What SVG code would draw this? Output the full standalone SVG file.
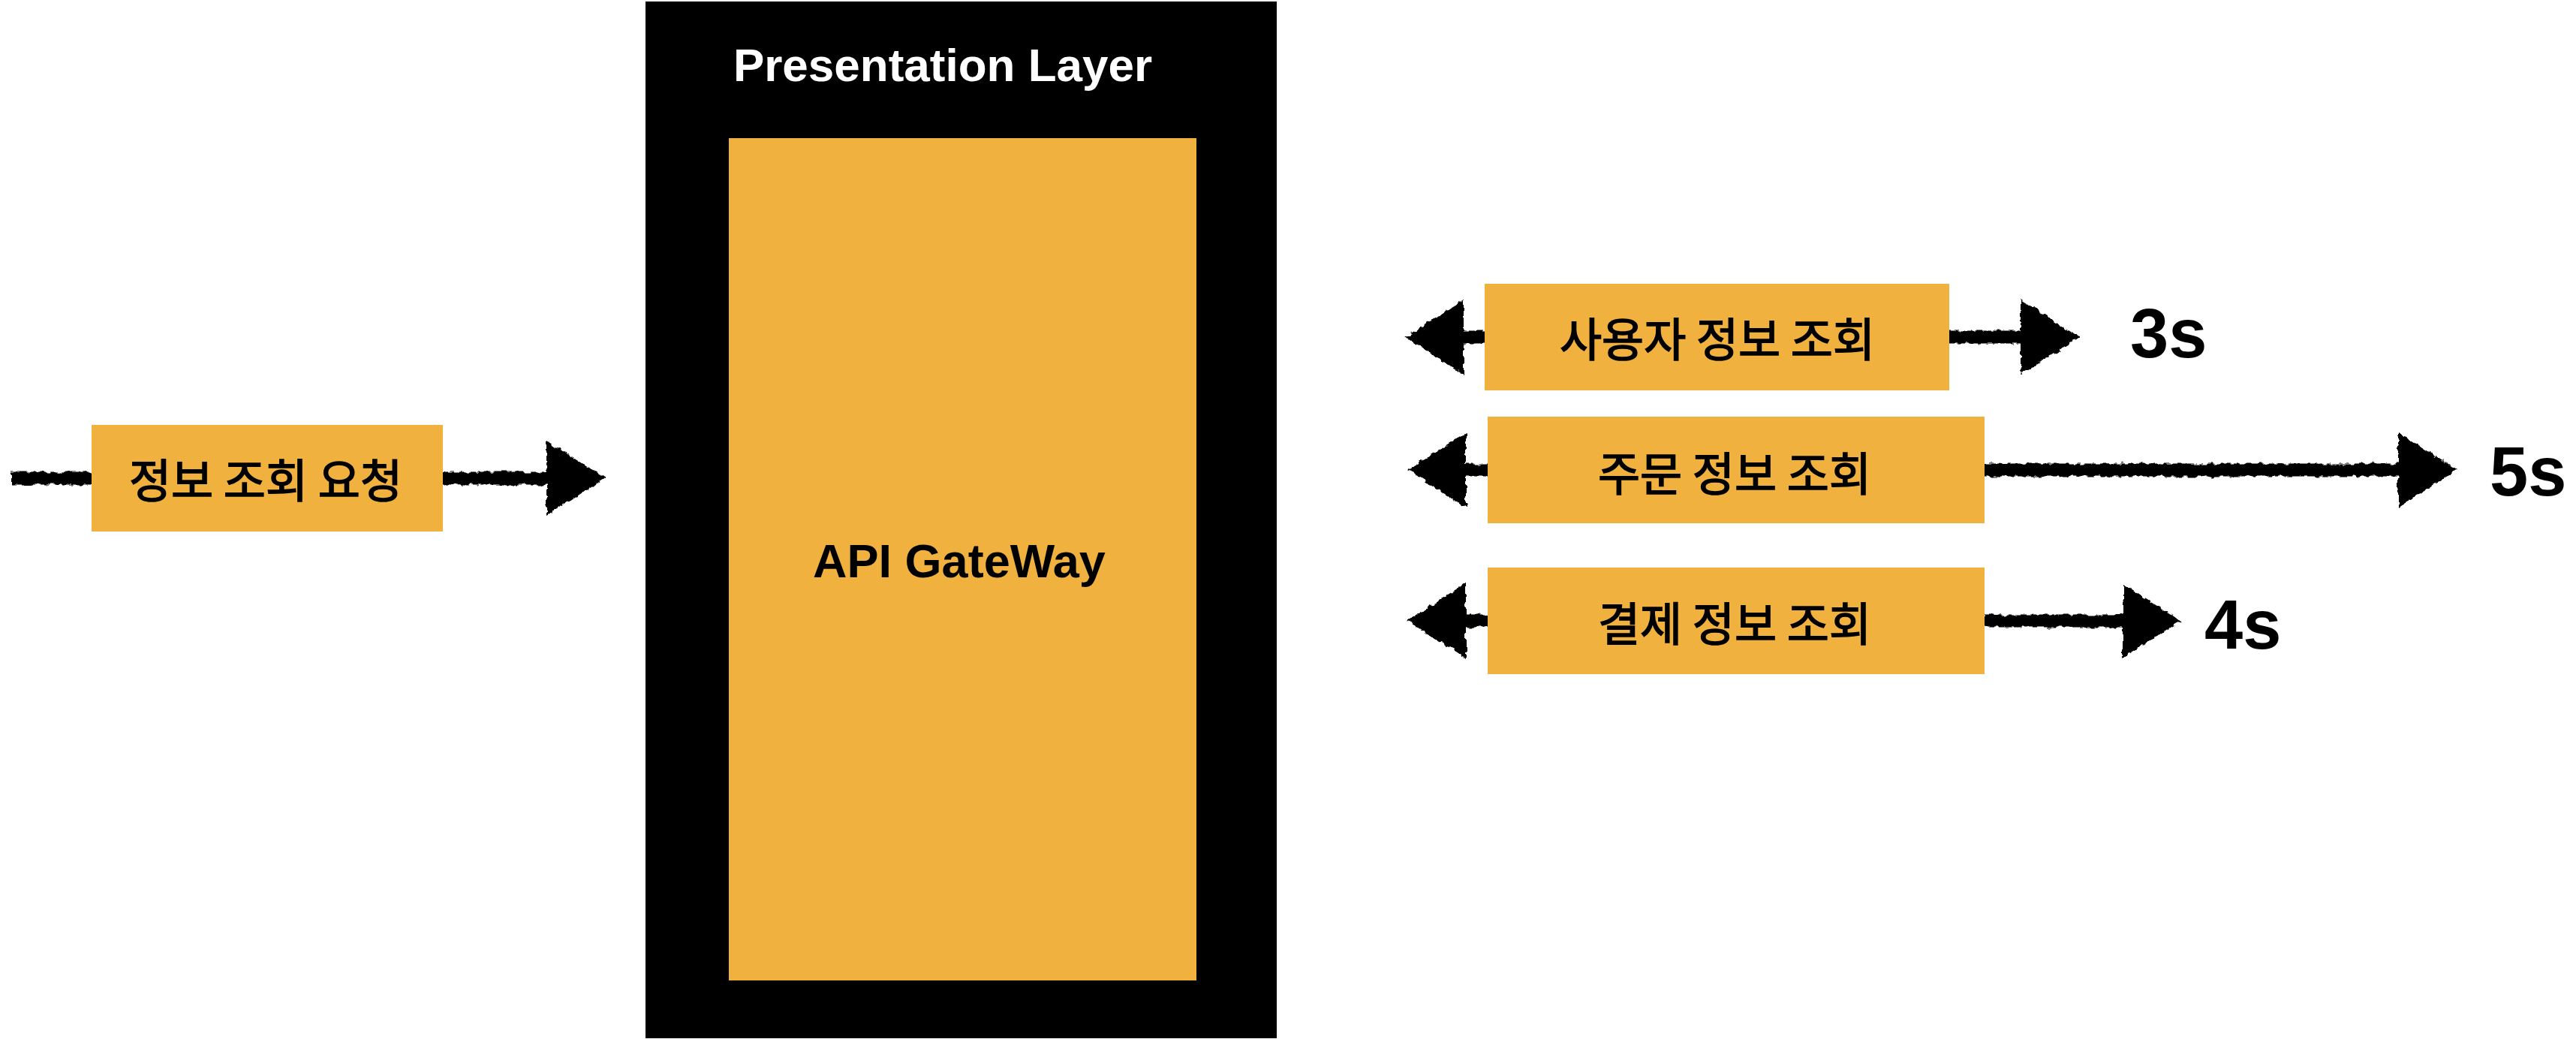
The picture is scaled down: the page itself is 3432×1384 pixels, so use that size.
<svg xmlns="http://www.w3.org/2000/svg" width="3432" height="1384" viewBox="0 0 3432 1384">
  <style>
    .box { fill: #F1B13F; }
    .ko { font-family: "Noto Sans CJK KR", "Liberation Sans", sans-serif; font-size: 61px; font-weight: normal; fill: #000; stroke: #000; stroke-width: 1.6; text-anchor: middle; dominant-baseline: central; }
    .en { font-family: "Liberation Sans", Arial, sans-serif; font-weight: bold; }
    .conn { fill: none; stroke: #000; stroke-width: 17; stroke-linecap: butt; }
    .time { font-family: "Liberation Sans", Arial, sans-serif; font-weight: bold; font-size: 92px; fill: #000; }
  </style>
  <defs>
    <filter id="rough" filterUnits="userSpaceOnUse" x="0" y="0" width="3432" height="1384">
      <feTurbulence type="fractalNoise" baseFrequency="0.12" numOctaves="2" seed="3" result="n"/>
      <feDisplacementMap in="SourceGraphic" in2="n" scale="8" xChannelSelector="R" yChannelSelector="G"/>
    </filter>
    <marker id="head" markerUnits="userSpaceOnUse" markerWidth="90" markerHeight="110" refX="2" refY="50" orient="auto" overflow="visible">
      <path d="M0,0 L78,50 L0,100 Z" fill="#000"/>
    </marker>
  </defs>

  <rect width="3432" height="1384" fill="#fff"/>

  <g id="presentation-layer">
    <rect x="860" y="2" width="841" height="1381" fill="#000"/>
    <text class="en" x="1256" y="108" font-size="62" fill="#fff" text-anchor="middle">Presentation Layer</text>
  </g>

  <g id="api-gateway">
    <rect class="box" x="971" y="184" width="623" height="1122"/>
    <text class="en" x="1278" y="769" font-size="63" fill="#000" text-anchor="middle">API GateWay</text>
  </g>

  <g id="connectors" filter="url(#rough)">
    <path class="conn" d="M15,637 L730,637" marker-end="url(#head)"/>
    <path class="conn" d="M1980,449 L1948,449" marker-end="url(#head)"/>
    <path class="conn" d="M2595,449 L2694,449" marker-end="url(#head)"/>
    <path class="conn" d="M1984,626 L1951,626" marker-end="url(#head)"/>
    <path class="conn" d="M2642,626 L3197,626" marker-end="url(#head)"/>
    <path class="conn" d="M1984,827 L1951,827" marker-end="url(#head)"/>
    <path class="conn" d="M2642,827 L2830,827" marker-end="url(#head)"/>
  </g>

  <g id="request">
    <rect class="box" x="122" y="566" width="468" height="142"/>
    <text class="ko" x="354" y="636">정보 조회 요청</text>
  </g>

  <g id="user-info">
    <rect class="box" x="1978" y="378" width="619" height="142"/>
    <text class="ko" x="2288" y="448">사용자 정보 조회</text>
  </g>

  <g id="order-info">
    <rect class="box" x="1982" y="555" width="662" height="142"/>
    <text class="ko" x="2311" y="627">주문 정보 조회</text>
  </g>

  <g id="payment-info">
    <rect class="box" x="1982" y="756" width="662" height="142"/>
    <text class="ko" x="2311" y="827">결제 정보 조회</text>
  </g>

  <g id="times">
    <text class="time" x="2838" y="476">3s</text>
    <text class="time" x="3317" y="660">5s</text>
    <text class="time" x="2937" y="864">4s</text>
  </g>
</svg>
